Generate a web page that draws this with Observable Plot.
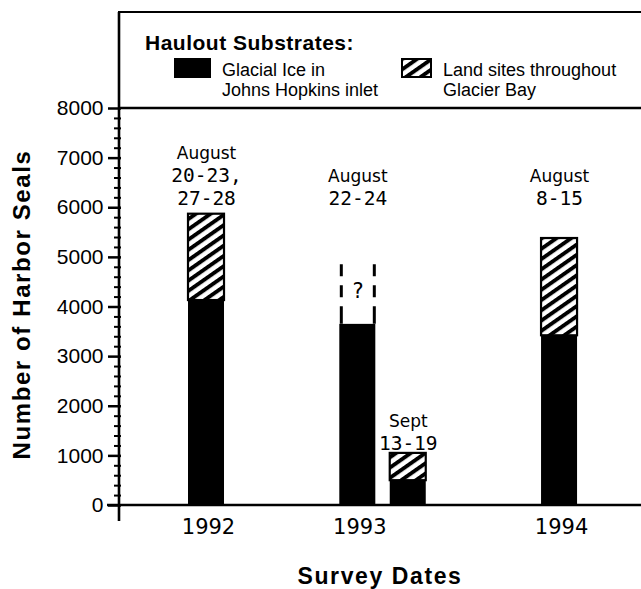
<!DOCTYPE html>
<html>
<head>
<meta charset="utf-8">
<script src="https://cdn.jsdelivr.net/npm/d3@7"></script>
<script src="https://cdn.jsdelivr.net/npm/@observablehq/plot@0.6"></script>
<style>
  html, body { margin: 0; padding: 0; background: #fff; }
  #chart svg { display: block; }
</style>
</head>
<body>
<div id="chart"></div>
<script>
// ---- data ----
const surveys      = ["1992 Aug", "1993 Aug", "1993 Sept", "1994 Aug"];
const surveyYears  = ["1992", "1993", "1993", "1994"];
const glacialIce   = [4130, 3650, 500, 3420];   // black segments
const landSites    = [1740, 0, 550, 1960];      // hatched segments
const uncertainTop = [null, 4850, null, null];  // dashed "?" extension
const months       = ["August", "August", "Sept", "August"];
const dayRanges    = ["20-23,\n27-28", "22-24", "13-19", "8-15"];
const yearTicks    = ["1992 Aug", "1993 Aug", "1994 Aug"];
const yMajorTicks  = [0, 1000, 2000, 3000, 4000, 5000, 6000, 7000, 8000];
const yMinorTicks  = d3.range(0, 8001, 200).filter(v => v % 1000 !== 0);
const legendTitle  = "Haulout Substrates:";
const legendLabels = ["Glacial Ice in\nJohns Hopkins inlet", "Land sites throughout\nGlacier Bay"];
const xTitle = "Survey Dates";
const yTitle = "Number of Harbor Seals";

// ---- table built from the arrays ----
const rows = surveys.map((s, i) => ({
  survey: s,
  year: surveyYears[i],
  ice: glacialIce[i],
  land: landSites[i],
  total: glacialIce[i] + landSites[i],
  unsure: uncertainTop[i],
  month: months[i],
  days: dayRanges[i],
  dayLines: dayRanges[i].split("\n").length
}));
// spacer slots give the uneven spacing of the surveys along the axis
const xDomain = [surveys[0], "·1", "·2", surveys[1], surveys[2], "·3", "·4", surveys[3]];

const sans = "'Liberation Sans', Arial, Helvetica, sans-serif";
const geneva = "'DejaVu Sans', Verdana, sans-serif";
const mono = "'DejaVu Sans Mono', monospace";

function decorations(index, scales, values, dims) {
  const {width, height, marginLeft} = dims;
  const g = d3.create("svg:g").attr("text-anchor", "start");
  const defs = g.append("defs");
  const pat = defs.append("pattern")
    .attr("id", "hatch")
    .attr("patternUnits", "userSpaceOnUse")
    .attr("width", 8.4).attr("height", 8.4)
    .attr("patternTransform", "rotate(55)");
  pat.append("rect").attr("width", 8.4).attr("height", 8.4).attr("fill", "white");
  pat.append("rect").attr("width", 3.9).attr("height", 8.4).attr("fill", "black");

  const ax = marginLeft, y0 = scales.y(0), y8 = scales.y(8000), top = 12;
  const line = (x1, y1, x2, y2, w) => g.append("line")
    .attr("x1", x1).attr("y1", y1).attr("x2", x2).attr("y2", y2)
    .attr("stroke", "black").attr("stroke-width", w);
  line(ax, top, ax, y0 + 16, 2.6);          // y axis / legend box left
  line(ax - 1, top, width, top, 2.2);        // legend box top
  line(ax, y8, width, y8, 2.4);              // legend box bottom at 8000
  line(ax - 12, y0, width, y0, 2.6);         // x axis

  // legend
  g.append("text").attr("x", ax + 26).attr("y", top + 38)
    .attr("text-anchor", "start")
    .attr("font-family", sans).attr("font-weight", "bold").attr("font-size", 21)
    .attr("letter-spacing", 0.5).text(legendTitle);
  const items = [
    {x: ax + 56, fill: "black", label: legendLabels[0], w: 35},
    {x: ax + 283, fill: "url(#hatch)", label: legendLabels[1], w: 29}
  ];
  for (const it of items) {
    g.append("rect").attr("x", it.x).attr("y", top + 47).attr("width", it.w).attr("height", 18)
      .attr("fill", it.fill).attr("stroke", "black").attr("stroke-width", 2);
    const t = g.append("text").attr("text-anchor", "start")
      .attr("font-family", sans).attr("font-size", 18);
    it.label.split("\n").forEach((l, i) => {
      t.append("tspan").attr("x", it.x + it.w + 12).attr("y", top + 64 + i * 20).text(l);
    });
  }

  // axis titles
  g.append("text")
    .attr("transform", `translate(21,${(y0 + y8) / 2 - 2}) rotate(-90)`)
    .attr("text-anchor", "middle").attr("dominant-baseline", "central")
    .attr("font-family", sans).attr("font-weight", "bold").attr("font-size", 24)
    .attr("letter-spacing", 1.6).text(yTitle);
  g.append("text")
    .attr("x", (ax + width) / 2).attr("y", height - 5)
    .attr("text-anchor", "middle")
    .attr("font-family", sans).attr("font-weight", "bold").attr("font-size", 23)
    .attr("letter-spacing", 1.6).text(xTitle);
  return g.node();
}

const chart = Plot.plot({
  width: 641,
  height: 589,
  marginLeft: 119,
  marginRight: 0,
  marginTop: 108,
  marginBottom: 84,
  style: {background: "white", color: "black", fontFamily: sans, overflow: "visible"},
  x: {domain: xDomain, paddingInner: 0.286, paddingOuter: 1.318, align: 0.519, round: false, axis: null},
  y: {domain: [0, 8000], axis: null},
  marks: [
    decorations,
    Plot.barY(rows, {x: "survey", y1: 0, y2: "ice", fill: "black"}),
    Plot.barY(rows.filter(d => d.land > 0), {
      x: "survey", y1: "ice", y2: "total", fill: "url(#hatch)", stroke: "black", strokeWidth: 2.2
    }),
    Plot.ruleX(rows.filter(d => d.unsure != null), {
      x: "survey", y1: "unsure", y2: "ice", dx: -16.5, strokeWidth: 3, strokeDasharray: "12,9,12,9,60"
    }),
    Plot.ruleX(rows.filter(d => d.unsure != null), {
      x: "survey", y1: "unsure", y2: "ice", dx: 16.5, strokeWidth: 3, strokeDasharray: "12,9,12,9,60"
    }),
    Plot.text(rows.filter(d => d.unsure != null), {
      x: "survey", y: d => (d.unsure + d.ice) / 2 + 60, text: () => "?",
      fontFamily: mono, fontSize: 21, fill: "black"
    }),
    // date annotations: month word (proportional) above day ranges (monospace)
    Plot.text(rows, {
      x: "survey", y: d => d.month === "Sept" ? d.total : 6000,
      text: d => d.month + "\n ".repeat(d.dayLines),
      lineAnchor: "bottom", lineHeight: 23 / 17, dy: -3,
      fontFamily: geneva, fontSize: 17, fill: "black"
    }),
    Plot.text(rows, {
      x: "survey", y: d => d.month === "Sept" ? d.total : 6000,
      text: "days",
      lineAnchor: "bottom", lineHeight: 23 / 19.5, dy: -3,
      fontFamily: mono, fontSize: 19.5, fill: "black"
    }),
    // axes
    Plot.axisY({ticks: yMinorTicks, tickSize: 7, dx: 2, tickFormat: () => "", strokeWidth: 2, label: null}),
    Plot.axisY({
      ticks: yMajorTicks, tickSize: 13, dx: 2, tickPadding: 5, strokeWidth: 2.5,
      tickFormat: d => String(d), fontSize: 21, fontFamily: sans, label: null
    }),
    Plot.axisX({
      ticks: yearTicks, tickSize: 0, tickPadding: 14, dx: 2,
      tickFormat: s => rows.find(r => r.survey === s).year,
      fontSize: 21, fontFamily: geneva, letterSpacing: 2.5, label: null
    })
  ]
});
document.getElementById("chart").appendChild(chart);
</script>
</body>
</html>
